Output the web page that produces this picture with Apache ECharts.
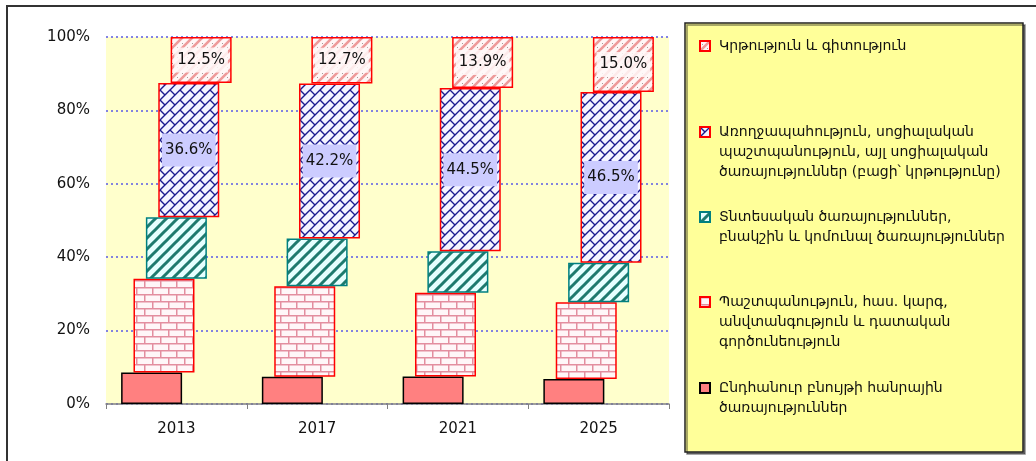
<!DOCTYPE html>
<html>
<head>
<meta charset="utf-8">
<script src="https://cdn.jsdelivr.net/npm/echarts@6/dist/echarts.min.js"></script>
<style>html,body{margin:0;padding:0;background:#fff}#c{width:1036px;height:461px}</style>
</head>
<body>
<div id="c"></div>
<script>
// ---- data ----
const years = ['2013', '2017', '2021', '2025'];
const nameGeneral = 'Ընդհանուր բնույթի հանրային\nծառայություններ';
const nameDefense = 'Պաշտպանություն, հաս. կարգ,\nանվտանգություն և դատական\nգործունեություն';
const nameEconomic = 'Տնտեսական ծառայություններ,\nբնակշին և կոմունալ ծառայություններ';
const nameHealth = 'Առողջապահություն, սոցիալական\nպաշտպանություն, այլ սոցիալական\nծառայություններ (բացի՝ կրթությունը)';
const nameEducation = 'Կրթություն և գիտություն';
const general = [8.6, 7.4, 7.5, 6.8];
const defense = [25.5, 24.7, 22.8, 20.9];
const economic = [16.8, 13.0, 11.3, 10.8];
const health = [36.6, 42.2, 44.5, 46.5];
const education = [12.5, 12.7, 13.9, 15.0];
const yTicks = [0, 20, 40, 60, 80, 100];

// ---- patterns ----
function makeCanvas(w, h, draw) {
  const c = document.createElement('canvas');
  c.width = w; c.height = h;
  draw(c.getContext('2d'), w, h);
  return c;
}
const brick = makeCanvas(16, 14, (ctx, w, h) => {
  ctx.fillStyle = '#FFF6F8'; ctx.fillRect(0, 0, w, h);
  ctx.strokeStyle = '#E38E9F'; ctx.lineWidth = 1.5;
  ctx.beginPath();
  ctx.moveTo(0, 0.75); ctx.lineTo(w, 0.75);
  ctx.moveTo(0, 7.75); ctx.lineTo(w, 7.75);
  ctx.moveTo(0.75, 0); ctx.lineTo(0.75, 7);
  ctx.moveTo(8.75, 7); ctx.lineTo(8.75, 14);
  ctx.stroke();
});
const teal = makeCanvas(11, 11, (ctx, w, h) => {
  ctx.fillStyle = '#E6FFFF'; ctx.fillRect(0, 0, w, h);
  ctx.strokeStyle = '#1E7A6E'; ctx.lineWidth = 3;
  ctx.beginPath();
  for (let c = -11; c <= 33; c += 11) { ctx.moveTo(c + 5, -5); ctx.lineTo(c - 16, 16); }
  ctx.stroke();
});
const diag = makeCanvas(20, 20, (ctx, w, h) => {
  const T = 20;
  ctx.fillStyle = '#F4F4FF'; ctx.fillRect(0, 0, w, h);
  ctx.strokeStyle = '#1B1B8F'; ctx.lineWidth = 1.4;
  ctx.beginPath();
  for (let c = -20; c <= 40; c += 10) { ctx.moveTo(c + 5, -5); ctx.lineTo(c - 25, 25); }
  const segs = [[0, 0, T / 4, T / 4], [T / 2, -T / 2, 3 * T / 4, -T / 4], [T / 2, 0, 3 * T / 4, T / 4], [T, -T / 2, 5 * T / 4, -T / 4]];
  for (let dx = -T; dx <= 2 * T; dx += T) for (let dy = -T; dy <= 2 * T; dy += T)
    segs.forEach(s => { ctx.moveTo(s[0] + dx, s[1] + dy); ctx.lineTo(s[2] + dx, s[3] + dy); });
  ctx.stroke();
});
const pinkDots = makeCanvas(10, 10, (ctx, w, h) => {
  ctx.fillStyle = '#FFF6F6'; ctx.fillRect(0, 0, w, h);
  ctx.strokeStyle = '#EE9A9A'; ctx.lineWidth = 2.6;
  ctx.beginPath();
  for (let c = -10; c <= 30; c += 10) { ctx.moveTo(c + 5, -5); ctx.lineTo(c - 15, 15); }
  ctx.stroke();
  ctx.fillStyle = '#A89898';
  ctx.fillRect(7, 7, 1, 1); ctx.fillRect(2, 3, 1, 1);
});

// ---- stacking helpers ----
const segs = [
  { name: nameGeneral, data: general, color: '#FF8080', border: '#000000' },
  { name: nameDefense, data: defense, color: { image: brick, repeat: 'repeat' }, border: '#FF0000' },
  { name: nameEconomic, data: economic, color: { image: teal, repeat: 'repeat' }, border: '#008080' },
  { name: nameHealth, data: health, color: { image: diag, repeat: 'repeat' }, border: '#FF0000',
    label: { show: true, position: 'inside', formatter: p => p.value.toFixed(1) + '%', color: '#111', fontSize: 15,
      fontFamily: 'DejaVu Sans', backgroundColor: '#CCCCFF', padding: [9, 3] } },
  { name: nameEducation, data: education, color: { image: pinkDots, repeat: 'repeat' }, border: '#FF0000',
    label: { show: true, position: 'inside', formatter: p => p.value.toFixed(1) + '%', color: '#111', fontSize: 15,
      fontFamily: 'DejaVu Sans', backgroundColor: 'rgba(255,248,248,0.85)', padding: [5, 3] } }
];
const series = [];
const cum = years.map(() => 0);
segs.forEach((s, i) => {
  series.push({
    type: 'bar', stack: 'g' + i, name: 'base' + i, data: cum.slice(),
    barWidth: 61, barGap: '-79.7%', silent: true,
    itemStyle: { color: 'rgba(0,0,0,0)' }, emphasis: { disabled: true }
  });
  series.push({
    type: 'bar', stack: 'g' + i, name: s.name, data: s.data,
    barWidth: 61, barGap: '-79.7%',
    itemStyle: { color: s.color, borderColor: s.border, borderWidth: 1.5 },
    label: s.label || { show: false },
    emphasis: { disabled: true }
  });
  s.data.forEach((v, k) => { cum[k] += v; });
});

// ---- legends (one per entry, top-to-bottom order of the original) ----
const legendOrder = [
  { name: nameEducation, y: 46, lines: 1 },
  { name: nameHealth, y: 132, lines: 3 },
  { name: nameEconomic, y: 217, lines: 2 },
  { name: nameDefense, y: 302, lines: 3 },
  { name: nameGeneral, y: 388, lines: 2 }
];
const legends = legendOrder.map(l => {
  const H = 20 * l.lines - 10;
  return {
    data: [l.name], left: 699, top: l.y - 10, padding: 0, orient: 'vertical',
    icon: 'path://M0,0H10V10H0Z M0,' + H, itemWidth: 10, itemHeight: H, selectedMode: false,
    textStyle: { fontFamily: 'DejaVu Sans', fontSize: 14, lineHeight: 20, color: '#111', padding: [0, 0, 0, 4] }
  };
});

const chart = echarts.init(document.getElementById('c'), null, { renderer: 'canvas' });
chart.setOption({
  animation: false,
  backgroundColor: '#FFFFFF',
  graphic: [
    { type: 'rect', shape: { x: 7, y: 6, width: 1040, height: 470 }, style: { fill: 'none', stroke: '#333', lineWidth: 2 }, z: 0 },
    { type: 'rect', shape: { x: 685, y: 23, width: 338, height: 429 },
      style: { fill: '#FFFF99', stroke: '#222', lineWidth: 1.5, shadowColor: 'rgba(0,0,0,0.45)', shadowOffsetX: 2, shadowOffsetY: 2, shadowBlur: 0 }, z: 0 }
  ],
  grid: { left: 106, right: 367, top: 37, bottom: 57, show: true, backgroundColor: '#FFFFCC', borderWidth: 0 },
  legend: legends,
  xAxis: {
    type: 'category', data: years,
    axisLine: { lineStyle: { color: '#808080', width: 1.5 } },
    axisTick: { show: true, length: 5, lineStyle: { color: '#808080' } },
    axisLabel: { color: '#111', fontSize: 15, fontFamily: 'DejaVu Sans', margin: 18 }
  },
  yAxis: {
    type: 'value', min: 0, max: 100, interval: 20,
    axisLine: { show: false }, axisTick: { show: false },
    axisLabel: { color: '#111', fontSize: 15, fontFamily: 'DejaVu Sans', margin: 16,
      formatter: v => (yTicks.indexOf(v) >= 0 ? v + '%' : '') },
    splitLine: { show: true, lineStyle: { color: '#5A5AE6', width: 1.5, type: [2, 3] } }
  },
  series: series
});
</script>
</body>
</html>
